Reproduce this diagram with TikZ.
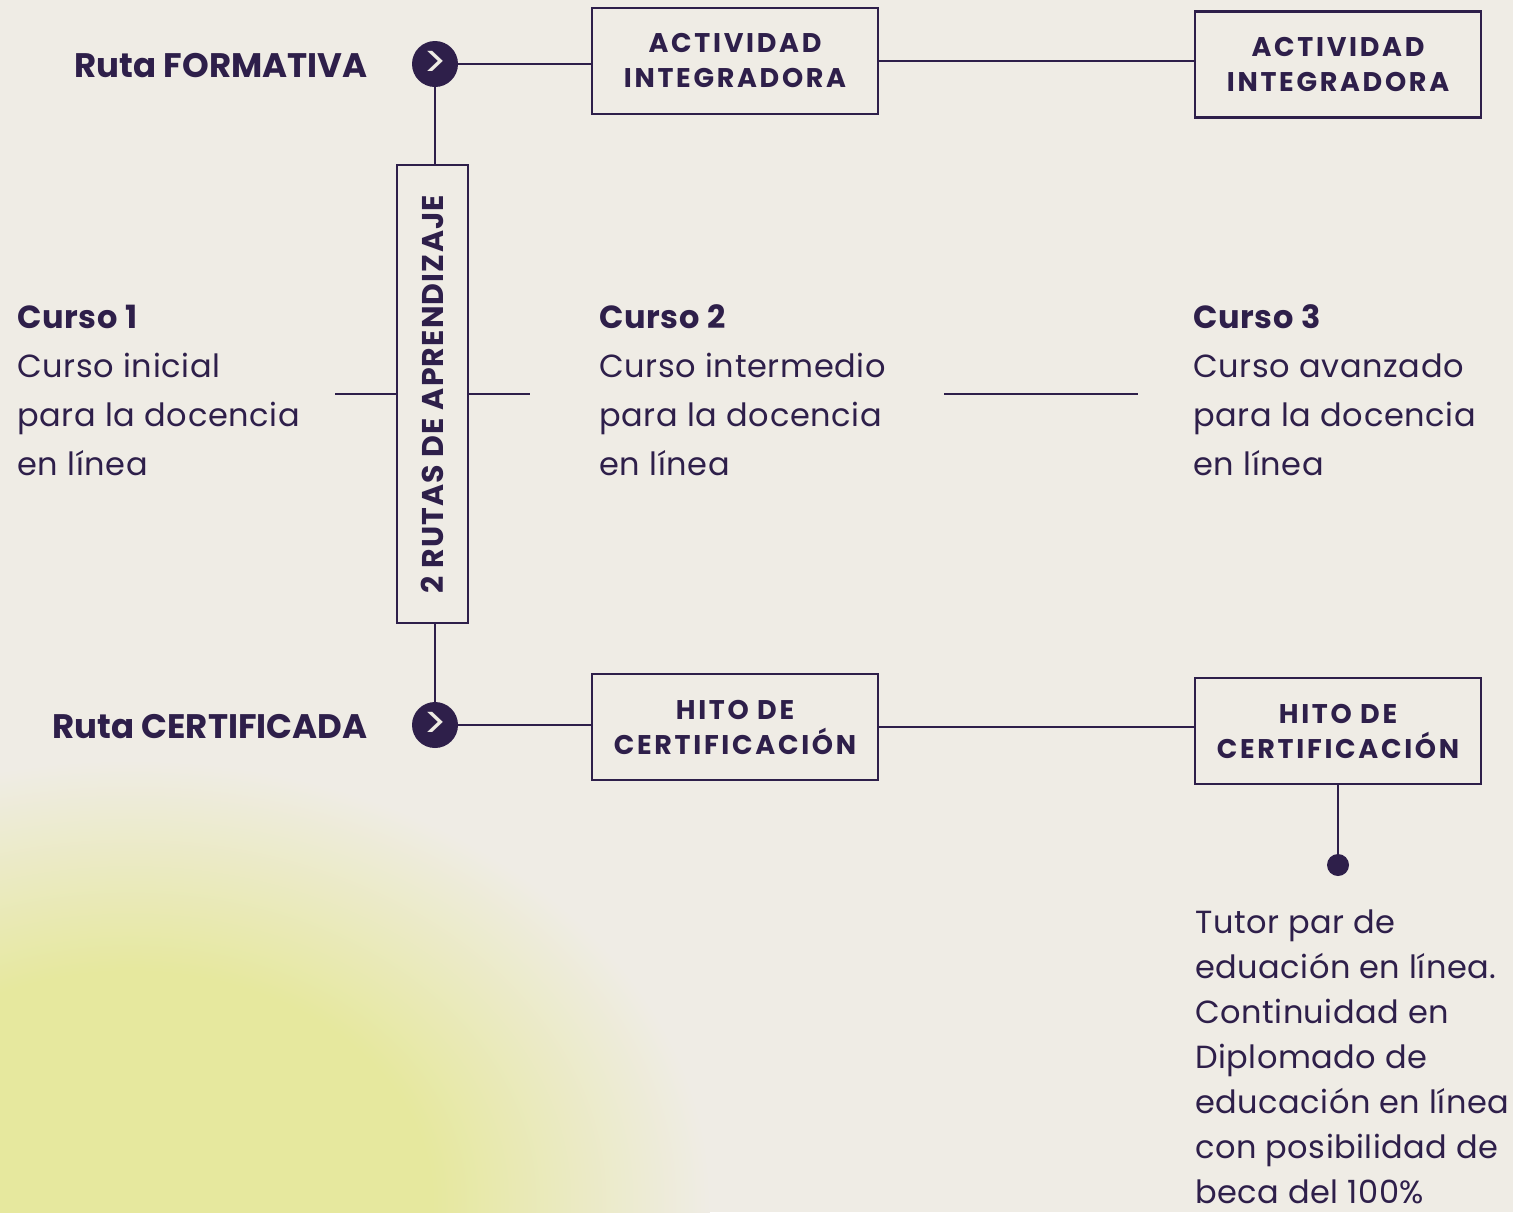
\documentclass[tikz,border=0pt]{standalone}
\usepackage{fontspec}
\setmainfont{Poppins}
\usepackage{xcolor}
\usepackage{tikz}

\definecolor{ink}{HTML}{2E1F4A}
\definecolor{paper}{HTML}{EFECE5}
\definecolor{lime}{HTML}{E6E89E}
\pgfdeclareradialshading{limeglow}{\pgfpoint{0bp}{0bp}}{color(0bp)=(lime); color(13bp)=(lime); color(25bp)=(paper); color(50bp)=(paper)}

\begin{document}
\begin{tikzpicture}[x=0.5pt, y=-0.5pt,
        link/.style={draw=ink, line width=1.4pt},
        box/.style={shape=rectangle, draw=ink, line width=1.4pt, minimum width=143pt, minimum height=53pt,
            align=center, text=ink, font=\fontsize{13.5}{17.5}\selectfont\bfseries\addfontfeature{LetterSpace=10}},
        go/.style={shape=circle, fill=ink, text=paper, minimum size=23pt, inner sep=0pt,
            font=\fontsize{22}{22}\selectfont},
        ruta/.style={anchor=base east, inner sep=0pt, text=ink, font=\fontsize{17}{17}\selectfont\bfseries},
        curso/.style={anchor=base west, align=left, inner sep=0pt, text=ink,
            font=\fontsize{16}{24.5}\selectfont\addfontfeature{LetterSpace=2}}
    ]
            % background
            \useasboundingbox (0, 0) rectangle (1513, 1212);
            \fill[paper] (0, 0) rectangle (1513, 1212);
            \begin{scope}
                \clip (0, 0) rectangle (1513, 1212);
                \shade[shading=limeglow] (130, 1200) ellipse (290pt and 220pt);
            \end{scope}

            \node[go] (formativa) at (435, 64) {>};
            \node[go] (certificada) at (435, 725) {>};
            \node[ruta] at (368, 77) {Ruta FORMATIVA};
            \node[ruta] at (368, 738) {Ruta CERTIFICADA};

            \node[box, rotate=90, minimum width=229pt, minimum height=35.5pt,
                font=\fontsize{15}{15}\selectfont\bfseries\addfontfeature{LetterSpace=4}] (rutas) at (432.5, 394) {2 RUTAS DE APRENDIZAJE};

            \node[box] (act1) at (735, 61) {ACTIVIDAD\\INTEGRADORA};
            \node[box] (act2) at (1338, 64.5) {ACTIVIDAD\\INTEGRADORA};
            \node[box] (hito1) at (735, 727) {HITO DE\\CERTIFICACIÓN};
            \node[box] (hito2) at (1338, 731) {HITO DE\\CERTIFICACIÓN};

            % anchor base = last line
            \node[curso] (curso1) at (17, 475) {\textbf{Curso 1}\\Curso inicial\\para la docencia\\en línea};
            \node[curso] (curso2) at (599, 475) {\textbf{Curso 2}\\Curso intermedio\\para la docencia\\en línea};
            \node[curso] (curso3) at (1193, 475) {\textbf{Curso 3}\\Curso avanzado\\para la docencia\\en línea};

            \node[shape=circle, fill=ink, minimum size=11pt, inner sep=0pt] (dot) at (1338, 865) {};
            \node[curso, font=\fontsize{16}{22.5}\selectfont\addfontfeature{LetterSpace=1.5}] (tutor) at (1195, 1203)
                {Tutor par de\\eduación en línea.\\Continuidad en\\Diplomado de\\educación en línea\\con posibilidad de\\beca del 100\%};

            \coordinate (m1) at (335, 394);
            \coordinate (m2) at (530, 394);
            \coordinate (m3) at (944, 394);
            \coordinate (m4) at (1138, 394);

            \path[link] (formativa) edge (formativa -| act1.west);
            \path[link] (act1.east) edge (act1.east -| act2.west);
            \path[link] (certificada) edge (certificada -| hito1.west);
            \path[link] (hito1.east) edge (hito1.east -| hito2.west);

            \path[link] (formativa) edge (formativa |- rutas.east);
            \path[link] (certificada |- rutas.west) edge (certificada);

            \path[link] (m1) edge (rutas.north);
            \path[link] (rutas.south) edge (m2);
            \path[link] (m3) edge (m4);

            \path[link] (hito2) edge (dot);

        \end{tikzpicture}
\end{document}
